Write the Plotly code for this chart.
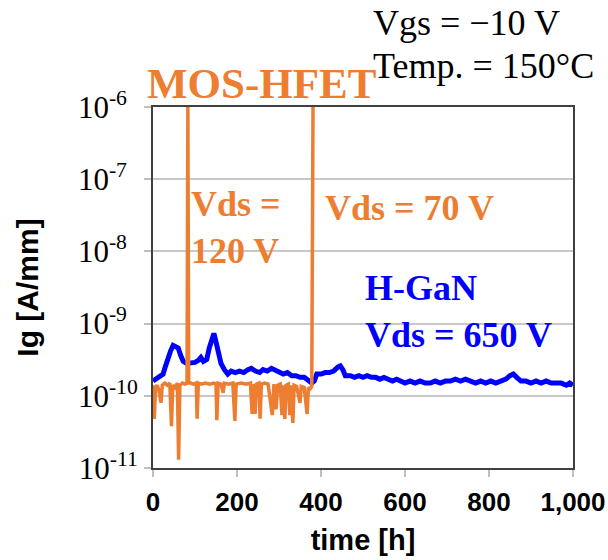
import plotly.graph_objects as go

# H-GaN gate leakage at Vds = 650 V
hgan_time = [0, 8, 16, 24, 30, 36, 42, 48, 54, 60, 66, 72, 80, 90, 100, 108, 114, 120,
             128, 134, 140, 145, 150, 156, 162, 170, 178, 186, 196, 206, 216, 226, 234,
             244, 254, 262, 272, 282, 290, 300, 310, 320, 330, 340, 350, 360, 370, 378,
             384, 390, 400, 410, 420, 430, 440, 446, 452, 458, 470, 480, 490, 500, 510,
             520, 530, 540, 550, 560, 570, 580, 590, 600, 612, 624, 636, 648, 660, 672,
             684, 696, 708, 720, 732, 744, 756, 768, 780, 792, 804, 816, 828, 840, 850,
             858, 866, 876, 888, 900, 912, 924, 936, 948, 960, 972, 984, 992, 1000]
hgan_ig = [1.6e-10, 1.7e-10, 1.8e-10, 2.0e-10, 2.6e-10, 3.4e-10, 4.2e-10, 5.0e-10, 4.8e-10,
           4.6e-10, 3.6e-10, 3.0e-10, 2.8e-10, 2.8e-10, 2.9e-10, 3.1e-10, 3.4e-10, 3.0e-10,
           3.2e-10, 4.6e-10, 6.2e-10, 7.3e-10, 5.6e-10, 3.6e-10, 2.8e-10, 2.3e-10, 2.0e-10,
           2.2e-10, 2.1e-10, 2.2e-10, 2.1e-10, 2.3e-10, 2.4e-10, 2.2e-10, 2.1e-10, 2.3e-10,
           2.2e-10, 2.4e-10, 2.3e-10, 2.1e-10, 2.0e-10, 2.1e-10, 1.9e-10, 1.9e-10, 1.8e-10,
           1.8e-10, 1.6e-10, 1.5e-10, 1.6e-10, 2.0e-10, 2.0e-10, 2.1e-10, 2.1e-10, 2.2e-10,
           2.5e-10, 2.6e-10, 2.3e-10, 1.9e-10, 1.9e-10, 1.8e-10, 1.9e-10, 1.8e-10, 1.9e-10,
           1.8e-10, 1.8e-10, 1.7e-10, 1.8e-10, 1.7e-10, 1.6e-10, 1.7e-10, 1.6e-10, 1.5e-10,
           1.6e-10, 1.5e-10, 1.6e-10, 1.5e-10, 1.5e-10, 1.6e-10, 1.5e-10, 1.6e-10, 1.6e-10,
           1.7e-10, 1.6e-10, 1.7e-10, 1.6e-10, 1.5e-10, 1.6e-10, 1.5e-10, 1.6e-10, 1.5e-10,
           1.6e-10, 1.7e-10, 1.9e-10, 2.0e-10, 1.8e-10, 1.6e-10, 1.6e-10, 1.5e-10, 1.6e-10,
           1.5e-10, 1.6e-10, 1.5e-10, 1.5e-10, 1.5e-10, 1.4e-10, 1.5e-10, 1.4e-10]

# MOS-HFET gate leakage (Vds = 120 V, then 70 V)
mos_time = [0, 3, 6, 10, 14, 19, 22, 28, 34, 40, 44, 47, 52, 58, 61, 64, 70, 76, 81, 83,
            85, 90, 96, 103, 105, 108, 115, 125, 135, 145, 150, 152, 155, 162, 167, 170,
            180, 190, 195, 198, 210, 222, 232, 236, 239, 243, 246, 252, 255, 258, 266,
            274, 284, 288, 293, 297, 303, 307, 310, 314, 317, 322, 326, 329, 333, 336,
            342, 350, 353, 360, 367, 370, 374, 378, 381]
mos_ig = [1.4e-10, 4.8e-11, 1.3e-10, 1.4e-10, 1.2e-10, 8.0e-11, 1.4e-10, 1.5e-10, 1.4e-10,
          1.5e-10, 3.8e-11, 1.4e-10, 1.3e-10, 1.5e-10, 1.3e-11, 1.4e-10, 1.5e-10, 1.45e-10,
          1.5e-10, 1e-6, 1.5e-10, 1.5e-10, 1.45e-10, 1.5e-10, 4.8e-11, 1.5e-10, 1.45e-10,
          1.5e-10, 1.45e-10, 1.5e-10, 1.45e-10, 4.6e-11, 1.5e-10, 1.45e-10, 1.1e-10,
          1.5e-10, 1.45e-10, 1.5e-10, 4.5e-11, 1.45e-10, 1.5e-10, 1.45e-10, 1.5e-10,
          5.6e-11, 1.45e-10, 5.6e-11, 1.45e-10, 1.5e-10, 4.8e-11, 1.45e-10, 1.5e-10,
          1.45e-10, 5.4e-11, 1.45e-10, 6.5e-11, 1.4e-10, 1.45e-10, 5.4e-11, 1.4e-10,
          4.8e-11, 1.4e-10, 1.45e-10, 5.4e-11, 1.4e-10, 4.2e-11, 1.4e-10, 1.35e-10,
          8.0e-11, 1.35e-10, 1.3e-10, 5.6e-11, 1.3e-10, 1.25e-10, 1.35e-10, 1e-6]

x_ticks = [0, 200, 400, 600, 800, 1000]
x_tick_text = ["0", "200", "400", "600", "800", "1,000"]
y_ticks = [1e-11, 1e-10, 1e-9, 1e-8, 1e-7, 1e-6]
y_tick_text = ["10<sup>-11</sup>", "10<sup>-10</sup>", "10<sup>-9\u2007</sup>",
               "10<sup>-8\u2007</sup>", "10<sup>-7\u2007</sup>", "10<sup>-6\u2007</sup>"]

ORANGE = "#ED7D31"
BLUE = "#0000FF"
SERIF = "Liberation Serif"
SANS = "Liberation Sans"

W, H = 608, 560
ML, MR, MT, MB = 153, 35, 107, 92
PW, PH = W - ML - MR, H - MT - MB

fig = go.Figure()
fig.add_trace(go.Scatter(x=hgan_time, y=hgan_ig, mode="lines",
                         line=dict(color=BLUE, width=5), showlegend=False))
fig.add_trace(go.Scatter(x=mos_time, y=mos_ig, mode="lines",
                         line=dict(color=ORANGE, width=3.5), showlegend=False))


def label(text, left, base, size, color, bold):
    """Place text with its left edge and last baseline at the given pixel spot."""
    fig.add_annotation(
        text=text, xref="paper", yref="paper",
        x=(left - ML - 2) / PW, y=(MT + PH - (base + 0.216 * size + 2)) / PH,
        xanchor="left", yanchor="bottom", align="left", showarrow=False,
        font=dict(family=SERIF, size=size, color=color,
                  weight="bold" if bold else "normal"))


label("Vgs = \u221210 V", 373, 35, 36, "black", False)
label("Temp. = 150\u00b0C", 373, 78, 36, "black", False)
label("MOS-HFET", 147, 98, 43, ORANGE, True)
label("Vds =<br>120 V", 191, 263, 36, ORANGE, True)
label("Vds = 70 V", 325, 220, 36, ORANGE, True)
label("H-GaN<br>Vds = 650 V", 365, 347, 36, BLUE, True)

fig.update_layout(
    width=W, height=H,
    margin=dict(l=ML, r=MR, t=MT, b=MB),
    paper_bgcolor="white", plot_bgcolor="white",
    xaxis=dict(
        range=[0, 1000], tickvals=x_ticks, ticktext=x_tick_text,
        automargin=False,
        showgrid=False, zeroline=False,
        showline=True, linecolor="#404040", linewidth=2, mirror=True,
        ticks="outside", ticklen=7, tickwidth=2, tickcolor="#bfbfbf",
        ticklabelstandoff=3,
        tickfont=dict(family=SANS, size=26, color="black", weight="bold"),
        title=dict(text="time [h]", standoff=13,
                   font=dict(family=SANS, size=29, color="black", weight="bold")),
    ),
    yaxis=dict(
        type="log", range=[-11, -6], tickvals=y_ticks, ticktext=y_tick_text,
        automargin=False,
        showgrid=True, gridcolor="#c8c8c8", gridwidth=2, zeroline=False,
        showline=True, linecolor="#404040", linewidth=2, mirror=True,
        ticks="outside", ticklen=7, tickwidth=2, tickcolor="#bfbfbf",
        ticklabelstandoff=0,
        tickfont=dict(family=SERIF, size=31, color="black"),
        title=dict(text="Ig [A/mm]", standoff=30,
                   font=dict(family=SANS, size=30, color="black", weight="bold")),
    ),
)

fig.write_html("out.html")
